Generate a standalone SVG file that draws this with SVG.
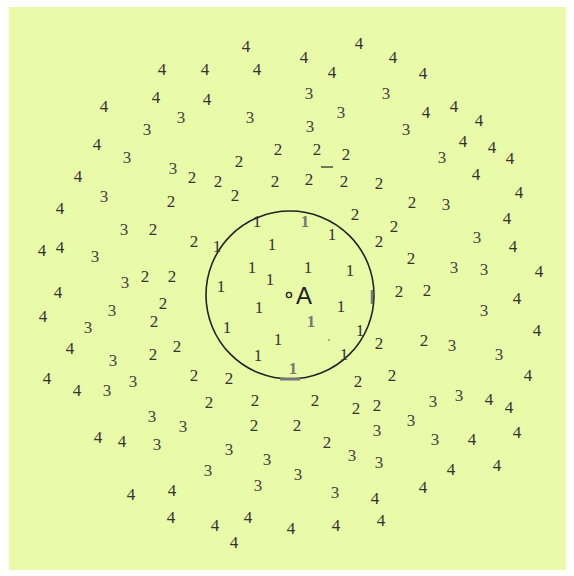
<svg xmlns="http://www.w3.org/2000/svg" width="574" height="576" viewBox="0 0 574 576">
<style>
text{font-family:"Liberation Serif","Times New Roman",serif;font-size:17px;fill:#333;text-anchor:middle}
.t3{fill:#444}
.g{fill:#777;font-weight:bold}
.a{font-family:"Liberation Sans",Arial,sans-serif;font-size:24px;fill:#222;text-anchor:start}
</style>
<rect x="0" y="0" width="574" height="576" fill="#ffffff"/>
<rect x="9" y="7" width="557" height="563" fill="#e9fba8"/>
<g id="circle">
<circle cx="290" cy="295" r="84" fill="none" stroke="#222" stroke-width="1.6"/>
<line x1="280" y1="379" x2="300" y2="379" stroke="#777" stroke-width="3"/>
<line x1="372" y1="290" x2="372" y2="304" stroke="#777" stroke-width="2.5"/>
<circle cx="289" cy="295" r="2.6" fill="none" stroke="#222" stroke-width="1.4"/>
<text class="a" x="296" y="304">A</text>
<line x1="321" y1="167" x2="333" y2="167" stroke="#333" stroke-width="1.3"/>
<circle cx="329" cy="340" r="0.8" fill="#555"/>
</g>
<g transform="translate(0,1)">
<g id="ones">
<text x="257" y="226">1</text>
<text class="g" x="305" y="226">1</text>
<text x="332" y="239">1</text>
<text x="217" y="251">1</text>
<text x="272" y="249">1</text>
<text x="252" y="272">1</text>
<text x="308" y="272">1</text>
<text x="350" y="275">1</text>
<text x="270" y="284">1</text>
<text x="221" y="291">1</text>
<text x="259" y="312">1</text>
<text x="341" y="311">1</text>
<text x="227" y="332">1</text>
<text class="g" x="311" y="326">1</text>
<text x="360" y="335">1</text>
<text x="278" y="344">1</text>
<text x="258" y="360">1</text>
<text x="344" y="359">1</text>
<text class="g" x="293" y="373">1</text>
</g>
<g id="twos">
<text x="278" y="154">2</text><text x="317" y="154">2</text><text x="346" y="159">2</text>
<text x="239" y="166">2</text><text x="192" y="182">2</text><text x="218" y="186">2</text>
<text x="235" y="200">2</text><text x="275" y="186">2</text><text x="309" y="184">2</text>
<text x="344" y="186">2</text><text x="379" y="188">2</text><text x="171" y="206">2</text>
<text x="355" y="219">2</text><text x="412" y="207">2</text><text x="394" y="231">2</text>
<text x="153" y="234">2</text><text x="194" y="246">2</text><text x="379" y="246">2</text>
<text x="411" y="263">2</text><text x="145" y="281">2</text><text x="172" y="281">2</text>
<text x="399" y="296">2</text><text x="427" y="295">2</text><text x="163" y="308">2</text>
<text x="154" y="326">2</text><text x="177" y="351">2</text><text x="153" y="359">2</text>
<text x="379" y="348">2</text><text x="424" y="345">2</text><text x="194" y="380">2</text>
<text x="229" y="383">2</text><text x="358" y="386">2</text><text x="392" y="380">2</text>
<text x="209" y="407">2</text><text x="255" y="405">2</text><text x="315" y="405">2</text>
<text x="356" y="413">2</text><text x="377" y="410">2</text><text x="254" y="430">2</text>
<text x="297" y="430">2</text><text x="327" y="447">2</text>
</g>
<g id="threes">
<text class="t3" x="309" y="98">3</text><text class="t3" x="386" y="98">3</text><text class="t3" x="181" y="122">3</text>
<text class="t3" x="250" y="122">3</text>
<text class="t3" x="147" y="134">3</text><text class="t3" x="341" y="117">3</text>
<text class="t3" x="310" y="131">3</text><text class="t3" x="406" y="134">3</text><text class="t3" x="127" y="162">3</text>
<text class="t3" x="442" y="162">3</text><text class="t3" x="173" y="173">3</text><text class="t3" x="104" y="201">3</text>
<text class="t3" x="446" y="209">3</text><text class="t3" x="124" y="234">3</text><text class="t3" x="95" y="261">3</text>
<text class="t3" x="477" y="242">3</text><text class="t3" x="454" y="272">3</text><text class="t3" x="484" y="274">3</text>
<text class="t3" x="125" y="287">3</text><text class="t3" x="112" y="315">3</text><text class="t3" x="484" y="315">3</text>
<text class="t3" x="88" y="332">3</text><text class="t3" x="452" y="350">3</text><text class="t3" x="113" y="365">3</text>
<text class="t3" x="499" y="359">3</text><text class="t3" x="107" y="395">3</text><text class="t3" x="133" y="386">3</text>
<text class="t3" x="433" y="406">3</text><text class="t3" x="459" y="400">3</text><text class="t3" x="152" y="421">3</text>
<text class="t3" x="183" y="431">3</text><text class="t3" x="411" y="425">3</text><text class="t3" x="377" y="435">3</text>
<text class="t3" x="435" y="444">3</text><text class="t3" x="157" y="449">3</text><text class="t3" x="229" y="454">3</text>
<text class="t3" x="208" y="475">3</text><text class="t3" x="267" y="464">3</text><text class="t3" x="258" y="490">3</text>
<text class="t3" x="298" y="479">3</text><text class="t3" x="352" y="460">3</text><text class="t3" x="379" y="467">3</text>
<text class="t3" x="335" y="497">3</text>
</g>
<g id="fours">
<text x="246" y="51">4</text><text x="359" y="48">4</text><text x="162" y="74">4</text>
<text x="205" y="74">4</text><text x="257" y="74">4</text><text x="304" y="62">4</text>
<text x="332" y="77">4</text><text x="393" y="62">4</text><text x="423" y="78">4</text>
<text x="156" y="102">4</text><text x="104" y="111">4</text><text x="207" y="104">4</text>
<text x="426" y="117">4</text><text x="454" y="111">4</text><text x="479" y="125">4</text>
<text x="97" y="149">4</text><text x="463" y="146">4</text><text x="492" y="152">4</text>
<text x="510" y="163">4</text><text x="78" y="181">4</text><text x="476" y="179">4</text>
<text x="519" y="197">4</text><text x="60" y="213">4</text><text x="507" y="223">4</text>
<text x="42" y="255">4</text><text x="60" y="252">4</text><text x="513" y="251">4</text>
<text x="539" y="276">4</text><text x="58" y="297">4</text><text x="517" y="303">4</text>
<text x="43" y="321">4</text><text x="537" y="335">4</text><text x="70" y="353">4</text>
<text x="47" y="383">4</text><text x="77" y="395">4</text><text x="528" y="380">4</text>
<text x="489" y="404">4</text><text x="509" y="412">4</text><text x="98" y="442">4</text>
<text x="122" y="446">4</text><text x="472" y="444">4</text><text x="517" y="437">4</text>
<text x="451" y="474">4</text><text x="497" y="470">4</text><text x="131" y="499">4</text>
<text x="172" y="495">4</text><text x="171" y="522">4</text><text x="423" y="492">4</text>
<text x="375" y="503">4</text><text x="248" y="522">4</text><text x="215" y="530">4</text>
<text x="234" y="547">4</text><text x="291" y="533">4</text><text x="336" y="530">4</text>
<text x="381" y="525">4</text>
</g>
</g>
</svg>
